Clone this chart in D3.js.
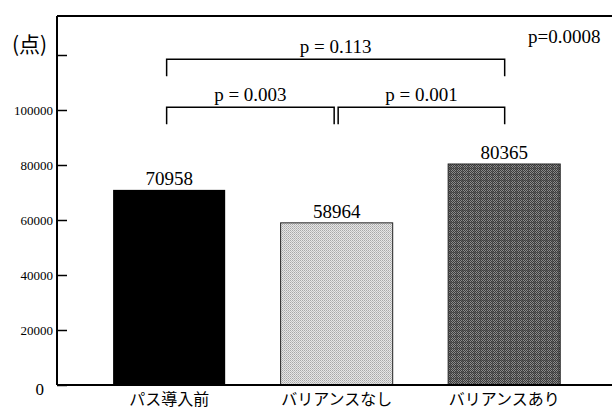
<!DOCTYPE html>
<html>
<head>
<meta charset="utf-8">
<script src="https://cdn.jsdelivr.net/npm/d3@7"></script>
<style>
  html, body { margin: 0; padding: 0; background: #fff; }
  svg { display: block; }
  .num { font-family: "Liberation Serif", "Times New Roman", Times, serif; }
  .jp { font-family: "Noto Sans CJK JP", sans-serif; }
</style>
</head>
<body>
<div id="chart"></div>
<script>
// data
const categories = ["パス導入前", "バリアンスなし", "バリアンスあり"];
const values = [70958, 58964, 80365];
const tickValues = [0, 20000, 40000, 60000, 80000, 100000, 120000];
const tickLabels = ["0", "20000", "40000", "60000", "80000", "100000", ""];
const bracketFrom = [0, 1, 0];
const bracketTo = [1, 2, 2];
const bracketLevel = [101000, 101000, 118500];
const bracketText = ["p = 0.003", "p = 0.001", "p = 0.113"];
const overallText = "p=0.0008";
const unitLabel = "(点)";

const width = 612, height = 412;
const plotLeft = 57, plotRight = 612, plotTop = 16, plotBottom = 385;

const svg = d3.select("#chart").append("svg")
    .attr("width", width)
    .attr("height", height);

// halftone-ish fills like the scanned original
const defs = svg.append("defs");
const light = defs.append("pattern")
    .attr("id", "lightFill")
    .attr("width", 2).attr("height", 2)
    .attr("patternUnits", "userSpaceOnUse");
light.append("rect").attr("width", 2).attr("height", 2).attr("fill", "#e6e6e6");
light.append("rect").attr("width", 1).attr("height", 1).attr("fill", "#a8a8a8");
light.append("rect").attr("x", 1).attr("y", 1).attr("width", 1).attr("height", 1).attr("fill", "#bdbdbd");

const dark = defs.append("pattern")
    .attr("id", "darkFill")
    .attr("width", 6).attr("height", 6)
    .attr("patternUnits", "userSpaceOnUse");
dark.append("rect").attr("width", 6).attr("height", 6).attr("fill", "#8a8a8a");
for (let i = 0; i < 6; i++) {
    for (let j = 0; j < 6; j++) {
        if ((i + j) % 2 === 0) {
            dark.append("rect").attr("x", i).attr("y", j).attr("width", 1).attr("height", 1).attr("fill", "#3a3a3a");
        }
    }
}
dark.append("rect").attr("x", 0).attr("y", 0).attr("width", 6).attr("height", 1).attr("fill", "#404040").attr("opacity", 0.6);
dark.append("rect").attr("x", 0).attr("y", 0).attr("width", 1).attr("height", 6).attr("fill", "#404040").attr("opacity", 0.6);

const fills = ["#000", "url(#lightFill)", "url(#darkFill)"];

const x = d3.scaleBand()
    .domain(categories)
    .range([plotLeft, plotRight])
    .paddingInner(0.331)
    .paddingOuter(0.322)
    .align(0.52);

const y = d3.scaleLinear()
    .domain([0, 120000])
    .range([plotBottom, 55]);

const cx = i => x(categories[i]) + x.bandwidth() / 2;

// bars
svg.selectAll(".bar")
    .data(values)
    .enter().append("rect")
    .attr("class", "bar")
    .attr("x", (d, i) => x(categories[i]))
    .attr("y", d => y(d))
    .attr("width", x.bandwidth())
    .attr("height", d => y(0) - y(d))
    .attr("fill", (d, i) => fills[i])
    .attr("stroke", (d, i) => i === 0 ? "none" : "#222")
    .attr("stroke-width", 1);

// value labels
svg.selectAll(".val")
    .data(values)
    .enter().append("text")
    .attr("class", "val num")
    .attr("x", (d, i) => cx(i))
    .attr("y", d => y(d) - 5)
    .attr("text-anchor", "middle")
    .attr("font-size", 19)
    .text(d => d);

// y axis
const yAxis = d3.axisRight(y)
    .tickValues(tickValues)
    .tickSize(10)
    .tickFormat("");
const ag = svg.append("g")
    .attr("transform", `translate(${plotLeft},0)`)
    .call(yAxis);
ag.select(".domain").remove();
ag.selectAll(".tick line").attr("stroke", "#000").attr("stroke-width", 1.5);

svg.selectAll(".ytl")
    .data(tickValues)
    .enter().append("text")
    .attr("class", "ytl num")
    .attr("x", d => d === 0 ? plotLeft - 13 : plotLeft - 4)
    .attr("y", d => y(d) + (d === 0 ? 10 : 4.5))
    .attr("text-anchor", "end")
    .attr("font-size", d => d === 0 ? 17 : 13)
    .text((d, i) => tickLabels[i]);

// frame: left axis, top line, baseline
svg.append("line")
    .attr("x1", plotLeft).attr("x2", plotLeft)
    .attr("y1", plotTop).attr("y2", plotBottom)
    .attr("stroke", "#000").attr("stroke-width", 2);
svg.append("line")
    .attr("x1", plotLeft).attr("x2", plotRight)
    .attr("y1", plotTop).attr("y2", plotTop)
    .attr("stroke", "#000").attr("stroke-width", 2);
svg.append("line")
    .attr("x1", plotLeft).attr("x2", plotRight)
    .attr("y1", plotBottom).attr("y2", plotBottom)
    .attr("stroke", "#000").attr("stroke-width", 2);

// unit label
svg.append("text")
    .attr("class", "jp")
    .attr("x", 12)
    .attr("y", 52)
    .attr("font-size", 21)
    .text(unitLabel);

// category labels
svg.selectAll(".cat")
    .data(categories)
    .enter().append("text")
    .attr("class", "cat jp")
    .attr("x", (d, i) => cx(i))
    .attr("y", 405)
    .attr("text-anchor", "middle")
    .attr("font-size", 16)
    .text(d => d);

// significance brackets
const legLen = 17;
bracketText.forEach((t, k) => {
    const x1 = cx(bracketFrom[k]) + (bracketFrom[k] === 1 ? 1.5 : -2.5);
    const x2 = cx(bracketTo[k]) + (bracketTo[k] === 1 ? -2.5 : 0.5);
    const yb = y(bracketLevel[k]);
    svg.append("path")
        .attr("d", `M${x1},${yb + legLen}V${yb}H${x2}V${yb + legLen}`)
        .attr("fill", "none")
        .attr("stroke", "#000")
        .attr("stroke-width", 1.5);
    svg.append("text")
        .attr("class", "num")
        .attr("x", (x1 + x2) / 2)
        .attr("y", yb - 6)
        .attr("text-anchor", "middle")
        .attr("font-size", 19)
        .text(t);
});

svg.append("text")
    .attr("class", "num")
    .attr("x", 528)
    .attr("y", 43)
    .attr("font-size", 19)
    .text(overallText);
</script>
</body>
</html>
